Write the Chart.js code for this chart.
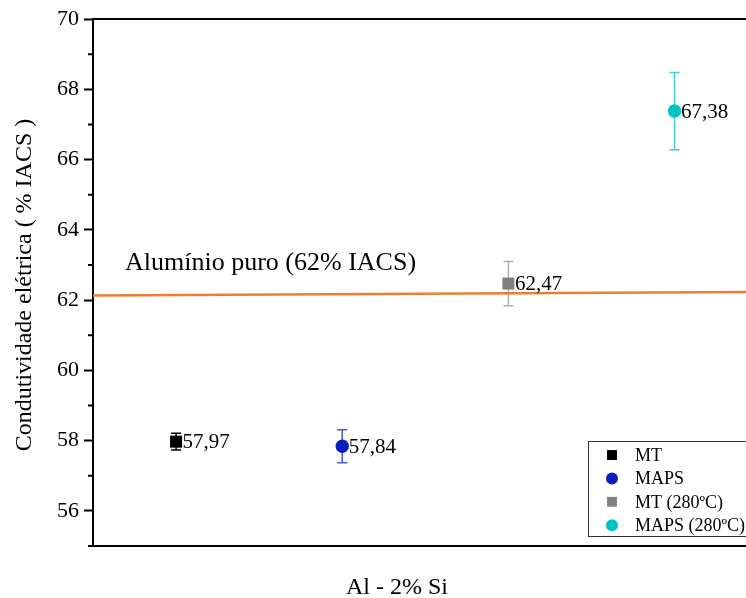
<!DOCTYPE html>
<html>
<head>
<meta charset="utf-8">
<script src="https://cdn.jsdelivr.net/npm/chart.js@4"></script>
<style>
html, body { margin: 0; padding: 0; background: #fff; }
#wrap { width: 746px; height: 598px; }
</style>
</head>
<body>
<div id="wrap"><canvas id="c" width="746" height="598"></canvas></div>
<script>
// data
const seriesNames = ['MT', 'MAPS', 'MT (280ºC)', 'MAPS (280ºC)'];
const seriesX = [1, 2, 3, 4];
const seriesY = [57.97, 57.84, 62.47, 67.38];
const seriesErr = [0.24, 0.47, 0.63, 1.1];
const seriesColors = ['#000000', '#0a1ebe', '#808080', '#00c4c4'];
const errColors = ['#000000', '#4a5ad0', '#b0b0b0', '#3fd0d0'];
const seriesShapes = ['rect', 'circle', 'rect', 'circle'];
const refX = [0.5, 4.43];
const refY = [62.13, 62.23];
const refLabel = 'Alumínio puro (62% IACS)';
const yTitle = 'Condutividade elétrica ( % IACS )';
const xTitle = 'Al - 2% Si';

const serif = '"Liberation Serif", "Times New Roman", serif';
const fmt = v => v.toFixed(2).replace('.', ',');

const datasets = seriesNames.map((name, i) => ({
  label: name,
  data: [{ x: seriesX[i], y: seriesY[i] }],
  pointStyle: seriesShapes[i],
  pointRadius: seriesShapes[i] === 'rect' ? 8.5 : 6.7,
  pointHoverRadius: seriesShapes[i] === 'rect' ? 8.5 : 6.7,
  backgroundColor: seriesColors[i],
  borderColor: seriesColors[i],
  borderWidth: 0,
  showLine: false,
  errColor: errColors[i],
  err: [seriesErr[i]]
}));
datasets.push({
  label: 'ref',
  type: 'line',
  data: refX.map((x, i) => ({ x, y: refY[i] })),
  borderColor: '#ed7d31',
  borderWidth: 2.5,
  pointRadius: 0,
  inLegend: false
});

// error bars behind the markers, value labels, minor ticks, frame, legend, titles
const extras = {
  id: 'extras',
  beforeDatasetsDraw(chart) {
    const ctx = chart.ctx, xs = chart.scales.x, ys = chart.scales.y;
    ctx.save();
    chart.data.datasets.forEach(ds => {
      if (!ds.err) return;
      ds.data.forEach((p, j) => {
        const px = xs.getPixelForValue(p.x);
        const y1 = ys.getPixelForValue(p.y + ds.err[j]);
        const y2 = ys.getPixelForValue(p.y - ds.err[j]);
        ctx.strokeStyle = ds.errColor;
        ctx.lineWidth = 1.5;
        ctx.beginPath();
        ctx.moveTo(px, y1); ctx.lineTo(px, y2);
        ctx.moveTo(px - 5, y1); ctx.lineTo(px + 5, y1);
        ctx.moveTo(px - 5, y2); ctx.lineTo(px + 5, y2);
        ctx.stroke();
      });
    });
    ctx.restore();
  },
  afterDatasetsDraw(chart) {
    const ctx = chart.ctx, xs = chart.scales.x, ys = chart.scales.y, a = chart.chartArea;
    ctx.save();
    // value labels
    ctx.fillStyle = '#000';
    ctx.font = '21px ' + serif;
    ctx.textBaseline = 'middle';
    ctx.textAlign = 'left';
    chart.data.datasets.forEach(ds => {
      if (!ds.err) return;
      ds.data.forEach(p => {
        ctx.fillText(fmt(p.y), xs.getPixelForValue(p.x) + 6.5, ys.getPixelForValue(p.y) + 1);
      });
    });
    // reference line label
    ctx.font = '26px ' + serif;
    ctx.textBaseline = 'alphabetic';
    ctx.fillText(refLabel, a.left + 32, ys.getPixelForValue(refY[0]) - 25);

    // minor ticks on y
    ctx.strokeStyle = '#000';
    ctx.lineWidth = 2;
    ctx.beginPath();
    for (let v = ys.min; v <= ys.max; v++) {
      if (v % 2 === 0) continue;
      const py = ys.getPixelForValue(v);
      ctx.moveTo(a.left - 5, py); ctx.lineTo(a.left, py);
    }
    // top frame line
    ctx.moveTo(a.left, a.top); ctx.lineTo(a.right, a.top);
    ctx.stroke();

    // legend box
    const bx = a.right - 158, by = a.top + 422, bh = 95;
    ctx.lineWidth = 1;
    ctx.strokeStyle = '#333';
    ctx.fillStyle = '#fff';
    ctx.fillRect(bx, by, 200, bh);
    ctx.strokeRect(bx + 0.5, by + 0.5, 200, bh);
    ctx.font = '18px ' + serif;
    ctx.textBaseline = 'middle';
    let row = 0;
    chart.data.datasets.forEach(ds => {
      if (ds.inLegend === false) return;
      const cy = by + 14 + row * 23.4;
      ctx.fillStyle = ds.backgroundColor;
      Chart.helpers.drawPoint(ctx, {
        pointStyle: ds.pointStyle,
        radius: ds.pointStyle === 'rect' ? 7 : 6,
        borderWidth: 0
      }, bx + 24, cy);
      ctx.fillStyle = '#000';
      ctx.fillText(ds.label, bx + 47, cy + 1);
      row++;
    });

    // axis titles
    ctx.fillStyle = '#000';
    ctx.textAlign = 'center';
    ctx.font = '24px ' + serif;
    ctx.textBaseline = 'alphabetic';
    ctx.fillText(xTitle, a.left + 304, a.bottom + 48);
    ctx.save();
    ctx.translate(31, 285);
    ctx.rotate(-Math.PI / 2);
    ctx.font = '24px ' + serif;
    ctx.fillText(yTitle, 0, 0);
    ctx.restore();
    ctx.restore();
  }
};

new Chart(document.getElementById('c'), {
  type: 'scatter',
  data: { datasets },
  options: {
    responsive: false,
    animation: false,
    events: [],
    layout: { autoPadding: false, padding: { top: 19, right: 0, left: 0, bottom: 0 } },
    plugins: { legend: { display: false }, tooltip: { enabled: false } },
    scales: {
      x: {
        type: 'linear',
        min: refX[0],
        max: refX[1],
        ticks: { display: false },
        grid: { display: true, drawOnChartArea: false, drawTicks: false },
        border: { display: true, color: '#000', width: 2 },
        afterFit: s => { s.height = 52; }
      },
      y: {
        min: 55,
        max: 70,
        ticks: {
          stepSize: 1,
          padding: 5,
          color: '#000',
          font: { family: serif, size: 22 },
          callback: v => (v % 2 === 0 ? String(v) : '')
        },
        grid: {
          drawOnChartArea: false,
          tickLength: 9,
          tickWidth: 2,
          tickColor: c => (c.tick && c.tick.value % 2 === 0 ? '#000' : 'rgba(0,0,0,0)')
        },
        border: { display: true, color: '#000', width: 2 },
        afterFit: s => { s.width = 93; }
      }
    }
  },
  plugins: [extras]
});
</script>
</body>
</html>
